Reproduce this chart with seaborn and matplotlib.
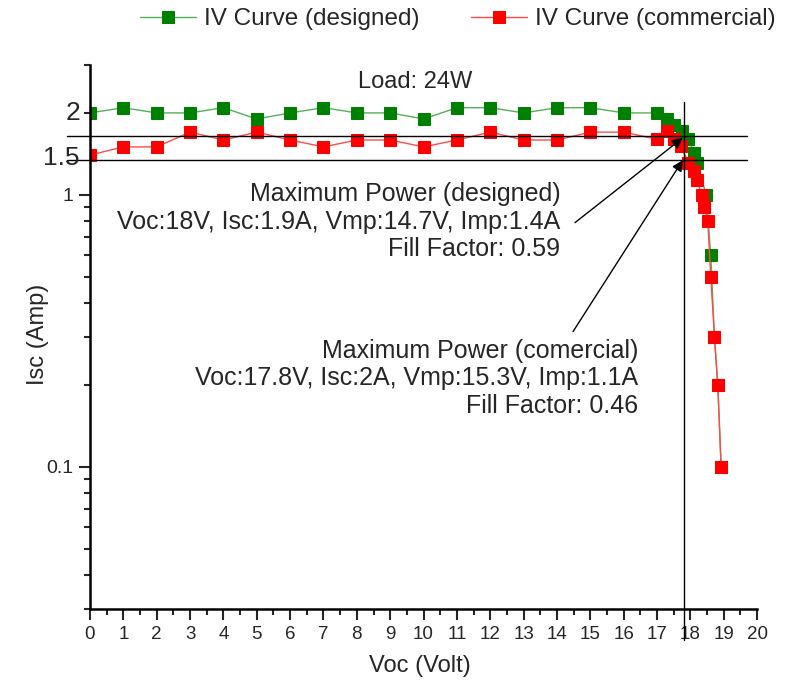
import numpy as np
import pandas as pd
import seaborn as sns
import matplotlib.pyplot as plt
import matplotlib.ticker as mticker

# IV curve, designed panel
voc_designed = [0, 1, 2, 3, 4, 5, 6, 7, 8, 9, 10, 11, 12, 13, 14, 15, 16, 17,
                17.3, 17.5, 17.74, 17.94, 18.11, 18.21, 18.47, 18.61, 18.72, 18.82, 18.92]
isc_designed = [2.0, 2.09, 2.0, 2.0, 2.09, 1.9, 2.0, 2.09, 2.0, 2.0, 1.9, 2.09, 2.09, 2.0, 2.09, 2.09, 2.0, 2.0,
                1.9, 1.81, 1.71, 1.6, 1.42, 1.31, 1.0, 0.6, 0.3, 0.2, 0.1]

# IV curve, commercial panel
voc_commercial = [0, 1, 2, 3, 4, 5, 6, 7, 8, 9, 10, 11, 12, 13, 14, 15, 16, 17,
                  17.3, 17.52, 17.71, 17.94, 18.12, 18.2, 18.34, 18.42, 18.52, 18.61, 18.72, 18.82, 18.92]
isc_commercial = [1.4, 1.5, 1.5, 1.7, 1.59, 1.7, 1.59, 1.5, 1.59, 1.59, 1.5, 1.59, 1.7, 1.59, 1.59, 1.7, 1.7, 1.6,
                  1.71, 1.6, 1.51, 1.31, 1.22, 1.13, 1.0, 0.9, 0.8, 0.5, 0.3, 0.2, 0.1]

# reference lines through the max power points
vmp_line = 17.8
imp_lines = [1.65, 1.345]

df_d = pd.DataFrame({"Voc": voc_designed, "Isc": isc_designed})
df_c = pd.DataFrame({"Voc": voc_commercial, "Isc": isc_commercial})

sns.set_style("ticks")
plt.rcParams["font.family"] = ["Liberation Sans", "DejaVu Sans"]

fig, ax = plt.subplots(figsize=(7.92, 6.88), dpi=100)
fig.subplots_adjust(left=0.1136, right=0.956, bottom=0.1148, top=0.9055)

sns.lineplot(data=df_d, x="Voc", y="Isc", ax=ax, color="#55b055", lw=1, estimator=None, sort=False,
             marker="s", markersize=8.5, markerfacecolor="#008000", markeredgecolor="#008000",
             label="IV Curve (designed)")
sns.lineplot(data=df_c, x="Voc", y="Isc", ax=ax, color="#ff4a4a", lw=1, estimator=None, sort=False,
             marker="s", markersize=8.5, markerfacecolor="#ff0000", markeredgecolor="#ff0000",
             label="IV Curve (commercial)")

ax.set_yscale("log")
ax.set_xlim(0, 20)
ax.set_ylim(0.03, 3)

ax.xaxis.set_major_locator(mticker.MultipleLocator(1))
ax.xaxis.set_minor_locator(mticker.MultipleLocator(0.5))
ax.set_yticks([0.1, 1])
ax.set_yticklabels(["0.1", "1"])
ax.yaxis.set_minor_locator(mticker.LogLocator(base=10, subs=np.arange(2, 10)))
ax.yaxis.set_minor_formatter(mticker.NullFormatter())

ax.tick_params(axis="both", which="major", direction="out", length=8, width=1.5, labelsize=14, pad=4)
ax.tick_params(axis="x", which="major", labelsize=13.5)
ax.tick_params(axis="both", which="minor", direction="out", length=4, width=1.5)
for s in ["top", "right"]:
    ax.spines[s].set_visible(False)
for s in ["left", "bottom"]:
    ax.spines[s].set_linewidth(1.8)
    ax.spines[s].set_color("black")

ax.set_xlabel("Voc (Volt)", fontsize=17)
ax.set_ylabel("Isc (Amp)", fontsize=17)
ax.xaxis.set_label_coords(0.495, -0.085)
ax.yaxis.set_label_coords(-0.062, 0.504)

# extra y labels
ax.text(-0.3, 2.0, "2", fontsize=19, ha="right", va="center", clip_on=False)
ax.text(-0.3, 1.37, "1.5", fontsize=19, ha="right", va="center", clip_on=False)

# crosshair lines
ax.axvline(vmp_line, ymin=-0.057, ymax=0.932, color="black", lw=1, clip_on=False)
for yv in imp_lines:
    ax.axhline(yv, xmin=-0.0345, xmax=0.985, color="black", lw=1, clip_on=False)

ax.text(9.75, 2.6, "Load: 24W", fontsize=17, ha="center", va="center")

ax.text(14.1, 1.116, "Maximum Power (designed)\nVoc:18V, Isc:1.9A, Vmp:14.7V, Imp:1.4A\nFill Factor: 0.59",
        fontsize=18, ha="right", va="top", multialignment="right", linespacing=1.2)
ax.text(16.43, 0.296, "Maximum Power (comercial)\nVoc:17.8V, Isc:2A, Vmp:15.3V, Imp:1.1A\nFill Factor: 0.46",
        fontsize=18, ha="right", va="top", multialignment="right", linespacing=1.2)

arrow = dict(arrowstyle="-|>", color="black", lw=1, mutation_scale=16, shrinkA=0, shrinkB=0)
ax.annotate("", xy=(vmp_line - 0.03, 1.62), xytext=(14.54, 0.79), arrowprops=arrow)
ax.annotate("", xy=(vmp_line - 0.03, 1.34), xytext=(14.48, 0.314), arrowprops=arrow)

ax.get_legend().remove()
handles, labels = ax.get_legend_handles_labels()
fig.legend(handles, labels, loc="center", bbox_to_anchor=(0.578, 0.972), ncol=2, frameon=False,
           fontsize=17.5, handlelength=2.3, columnspacing=2.1, handletextpad=0.35)

fig.savefig("out.png", dpi=100)
